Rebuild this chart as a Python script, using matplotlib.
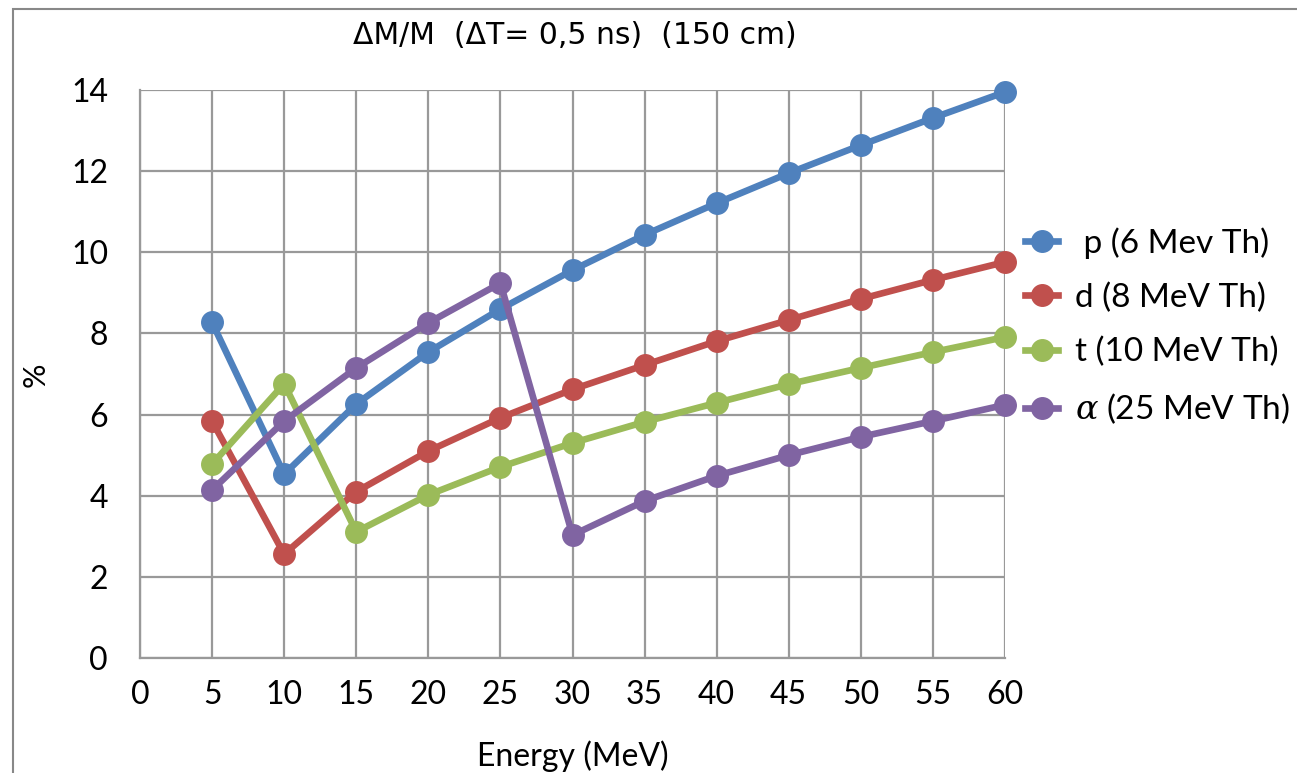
import matplotlib
matplotlib.use("Agg")
import matplotlib.pyplot as plt
from matplotlib.patches import Rectangle

energy = [5, 10, 15, 20, 25, 30, 35, 40, 45, 50, 55, 60]
p_vals = [8.27, 4.53, 6.26, 7.54, 8.6, 9.56, 10.43, 11.21, 11.95, 12.64, 13.31, 13.95]
d_vals = [5.84, 2.56, 4.1, 5.1, 5.92, 6.62, 7.22, 7.81, 8.33, 8.85, 9.32, 9.76]
t_vals = [4.78, 6.76, 3.11, 4.02, 4.71, 5.3, 5.82, 6.29, 6.75, 7.15, 7.54, 7.91]
a_vals = [4.14, 5.84, 7.15, 8.26, 9.24, 3.03, 3.87, 4.49, 5.0, 5.45, 5.84, 6.24]
labels = [" p (6 Mev Th)", "d (8 MeV Th)", "t (10 MeV Th)", r"$\alpha$ (25 MeV Th)"]
colors = ["#4F81BD", "#C0504D", "#9BBB59", "#8064A2"]
x_ticks = list(range(0, 61, 5))
y_ticks = list(range(0, 15, 2))

plt.rcParams['font.family'] = ['Lato', 'DejaVu Sans']
plt.rcParams['mathtext.fontset'] = 'dejavuserif'

fig = plt.figure(figsize=(12.97, 7.73), dpi=100)
W, H = 1297, 773
ax = fig.add_axes([140 / W, 1 - 658 / H, (1005 - 140) / W, (658 - 90) / H])

for vals, lab, c in zip([p_vals, d_vals, t_vals, a_vals], labels, colors):
    ax.plot(energy, vals, color=c, lw=4.8, marker='o', markersize=15.5, label=lab,
            solid_joinstyle='round', zorder=3, clip_on=False)

ax.set_xlim(0, 60)
ax.set_ylim(0, 14)
ax.set_xticks(x_ticks)
ax.set_yticks(y_ticks)
ax.grid(True, color='#999999', lw=1.6)
ax.set_axisbelow(True)
for s in ['top', 'right']:
    ax.spines[s].set_visible(False)
for s in ['left', 'bottom']:
    ax.spines[s].set_color('#999999')
    ax.spines[s].set_linewidth(1.6)
ax.tick_params(axis='both', length=0, labelsize=23)
ax.tick_params(axis='x', pad=16)
ax.tick_params(axis='y', pad=23)

ax.set_xlabel("Energy (MeV)", fontsize=23, labelpad=22)
fig.text(36 / W, 1 - 375 / H, "%", rotation=90, fontsize=22, ha='center', va='center')
fig.text(575 / W, 1 - 35 / H, "ΔM/M  (ΔT= 0,5 ns)  (150 cm)", fontsize=21.5,
         ha='center', va='center', family='DejaVu Sans')

leg = fig.legend(loc='upper left', bbox_to_anchor=(1025 / W, 1 - 227 / H), frameon=False,
                 fontsize=24, labelspacing=0.72, handlelength=1.0, handletextpad=0.5,
                 borderpad=0, borderaxespad=0)

fig.patches.append(Rectangle((13 / W, -0.1), 1.2, 1 - 9 / H + 0.1, transform=fig.transFigure,
                             fill=False, edgecolor='#888888', lw=1.5))

fig.savefig("out.png", dpi=100)
